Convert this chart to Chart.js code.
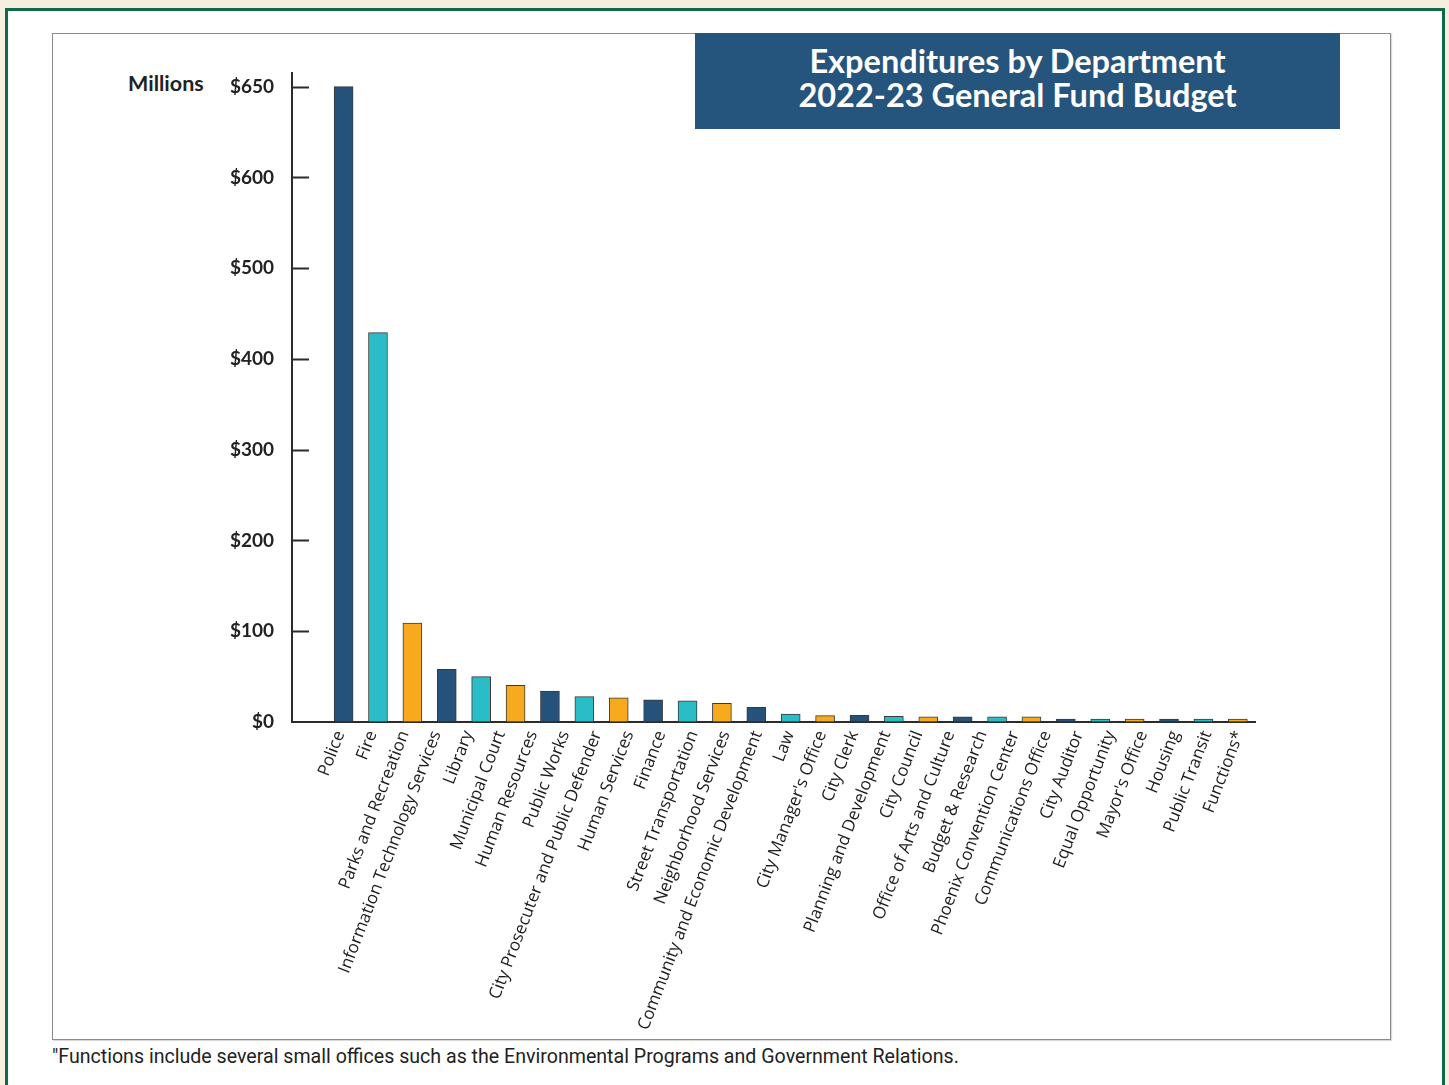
<!DOCTYPE html>
<html>
<head>
<meta charset="utf-8">
<script src="https://cdn.jsdelivr.net/npm/chart.js@4.4.1/dist/chart.umd.min.js"></script>
<style>
  html, body { margin: 0; padding: 0; background: #f6eedf; }
  #page { position: relative; width: 1449px; height: 1085px; overflow: hidden; }
  #frame { position: absolute; left: 5px; top: 8px; width: 1434px; height: 1100px; border: 3px solid #0e6b45; background: #fff; }
  #box { position: absolute; left: 52px; top: 33px; width: 1337px; height: 1005px; border: 1px solid #8a8a8a; box-shadow: 1px 1px 1px rgba(0,0,0,0.15); }
  #title { position: absolute; left: 695px; top: 33px; width: 645px; height: 96px; box-sizing: border-box; padding-top: 11px;
           background: #25547c; color: #fff; font: 700 32.5px Lato; line-height: 34px; text-align: center; }
  #millions { position: absolute; left: 128px; top: 70px; font: 700 21.5px Lato; color: #222; }
  #note { position: absolute; left: 52px; top: 1045px; font: 19.6px Roboto; color: #222; white-space: nowrap; }
  canvas { position: absolute; left: 0; top: 0; }
</style>
</head>
<body>
<div id="page">
  <div id="frame"></div>
  <div id="box"></div>
  <div id="title">Expenditures by Department<br>2022-23 General Fund Budget</div>
  <div id="millions">Millions</div>
  <div id="note">"Functions include several small offices such as the Environmental Programs and Government Relations.</div>
  <canvas id="chart" width="1449" height="1085"></canvas>
</div>
<script>
// labels under the axis (the original has 29 labels but only 27 bars)
var DEPARTMENTS = [
  'Police', 'Fire', 'Parks and Recreation', 'Information Technology Services', 'Library',
  'Municipal Court', 'Human Resources', 'Public Works', 'City Prosecuter and Public Defender',
  'Human Services', 'Finance', 'Street Transportation', 'Neighborhood Services',
  'Community and Economic Development', 'Law', "City Manager's Office", 'City Clerk',
  'Planning and Development', 'City Council', 'Office of Arts and Culture', 'Budget & Research',
  'Phoenix Convention Center', 'Communications Office', 'City Auditor', 'Equal Opportunity',
  "Mayor's Office", 'Housing', 'Public Transit', 'Functions*'
];

// bar heights in $ millions
var BAR_VALUES = [
  650, 429, 109, 58, 50, 40.5, 34, 28, 26.5, 24.3, 23.2, 20.6, 16.2,
  8.8, 7, 7.4, 6.2, 5.7, 5.7, 5.7, 5.7, 3.3, 3.3, 3.3, 3.3, 3.3, 3.3
];

var BAR_COLORS = ['#24527a', '#2bbdc7', '#f7aa1e'];

// tick values; they sit evenly spaced on the axis even though the last step is only 50
var Y_TICK_VALUES = [0, 100, 200, 300, 400, 500, 600, 650];

function toAxis(v) {
  for (var i = 1; i < Y_TICK_VALUES.length; i++) {
    var a = Y_TICK_VALUES[i - 1], b = Y_TICK_VALUES[i];
    if (v <= b || i === Y_TICK_VALUES.length - 1) return (i - 1) + (v - a) / (b - a);
  }
  return 0;
}

var innerTicks = {
  id: 'innerTicks',
  afterDraw: function (chart) {
    var y = chart.scales.y, ctx = chart.ctx, left = chart.chartArea.left;
    ctx.save();
    ctx.strokeStyle = '#2b2b2b';
    ctx.lineWidth = 2;
    y.ticks.forEach(function (t) {
      if (t.value === 0) return;
      var py = Math.round(y.getPixelForValue(t.value)) + 0.5;
      ctx.beginPath();
      ctx.moveTo(left, py);
      ctx.lineTo(left + 17, py);
      ctx.stroke();
    });
    ctx.restore();
  }
};

new Chart(document.getElementById('chart'), {
  type: 'bar',
  data: {
    datasets: [{
      data: BAR_VALUES.map(function (v, i) { return { x: i, y: toAxis(v) }; }),
      backgroundColor: BAR_VALUES.map(function (v, i) { return BAR_COLORS[i % BAR_COLORS.length]; }),
      borderColor: '#3a3a3a',
      borderWidth: 1,
      barThickness: 19,
    }],
  },
  options: {
    responsive: false,
    animation: false,
    layout: { padding: { left: 0, top: 73, right: 194, bottom: 0 } },
    plugins: { legend: { display: false }, tooltip: { enabled: false } },
    scales: {
      x: { type: 'linear', offset: false, min: -1.5, max: BAR_VALUES.length - 0.5, display: false },
      xl: {
        type: 'linear', position: 'bottom', offset: false, min: -1.5, max: DEPARTMENTS.length - 0.51,
        grid: { display: true, offset: false, drawOnChartArea: false, drawTicks: false },
        border: { display: true, color: '#2b2b2b', width: 2 },
        ticks: {
          stepSize: 1, maxTicksLimit: 50, includeBounds: false, autoSkip: false,
          minRotation: 69, maxRotation: 69, padding: 6,
          color: '#1c1c1c', font: { family: 'Open Sans', size: 17 },
          callback: function (v) { return DEPARTMENTS[v] || ''; },
        },
        afterFit: function (s) { s.height = 363; },
      },
      y: {
        min: 0, max: 7.15,
        grid: { display: true, drawOnChartArea: false, drawTicks: false },
        border: { display: true, color: '#2b2b2b', width: 2 },
        ticks: {
          stepSize: 1, includeBounds: false, padding: 18,
          color: '#222', font: { family: 'Lato', size: 19, weight: '700' },
          callback: function (v) { return Y_TICK_VALUES[v] != null ? '$' + Y_TICK_VALUES[v] : ''; },
        },
        afterFit: function (s) { s.width = 292; },
      },
    },
  },
  plugins: [innerTicks],
});
</script>
</body>
</html>
